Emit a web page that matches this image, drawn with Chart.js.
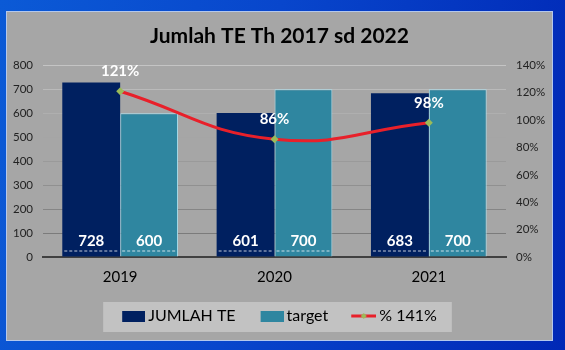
<!DOCTYPE html>
<html>
<head>
<meta charset="utf-8">
<script src="https://cdn.jsdelivr.net/npm/chart.js@4.4.0/dist/chart.umd.min.js"></script>
<style>
  body { margin: 0; width: 565px; height: 350px; overflow: hidden;
         background: linear-gradient(100deg, #0b5ad6 0%, #0846cc 45%, #0028b6 100%); }
  #panel { position: absolute; left: 6px; top: 11px; width: 545px; height: 328px;
           background: #a6a6a6; border: 1px solid #b4c8ec; }
</style>
</head>
<body>
<div id="panel"><canvas id="te" width="545" height="328"></canvas></div>
<script>
const years = ['2019', '2020', '2021'];
const jumlahTE = [728, 601, 683];
const target = [600, 700, 700];
const persen = [121, 86, 98];

const FONT = 'Lato, "Open Sans", sans-serif';

// small legend icons (content placed at right of a 28px canvas)
function icon(draw) {
  const c = document.createElement('canvas');
  c.width = 28; c.height = 12;
  draw(c.getContext('2d'));
  return c;
}
const iconTE = icon(g => { g.fillStyle = '#002060'; g.fillRect(5, 1, 23, 11); });
const iconTarget = icon(g => { g.fillStyle = '#2f86a0'; g.fillRect(5, 1, 23, 11); });
const iconPersen = icon(g => {
  g.strokeStyle = '#e8202a'; g.lineWidth = 3;
  g.beginPath(); g.moveTo(3, 6); g.lineTo(28, 6); g.stroke();
  g.fillStyle = '#9bbb59';
  g.beginPath(); g.moveTo(15.5, 3); g.lineTo(18.5, 6); g.lineTo(15.5, 9); g.lineTo(12.5, 6); g.closePath(); g.fill();
});
const icons = [iconTE, iconTarget, iconPersen];

const valueLabels = {
  id: 'valueLabels',
  beforeDraw(chart) {
    // legend background box
    const hb = chart.legend.legendHitBoxes;
    if (!hb || !hb.length) return;
    const left = Math.min(...hb.map(h => h.left)) - 19;
    const right = Math.max(...hb.map(h => h.left + h.width)) + 15;
    const ctx = chart.ctx;
    ctx.save();
    ctx.fillStyle = '#c2c2c2';
    ctx.fillRect(left, hb[0].top - 6, right - left, 30);
    ctx.restore();
  },
  afterDatasetsDraw(chart) {
    const ctx = chart.ctx;
    ctx.save();
    chart.data.datasets.forEach((ds, i) => {
      const meta = chart.getDatasetMeta(i);
      meta.data.forEach((el, j) => {
        ctx.fillStyle = '#fff';
        ctx.textAlign = 'center';
        ctx.textBaseline = 'middle';
        ctx.font = 'bold 15px ' + FONT;
        if (ds.type === 'line') {
          ctx.fillText(ds.data[j] + '%', el.x, el.y - 20);
        } else {
          ctx.fillText(ds.data[j], el.x, el.base - 15);
          ctx.strokeStyle = 'rgba(255,255,255,0.75)';
          ctx.lineWidth = 1;
          ctx.setLineDash([3, 2]);
          ctx.beginPath();
          ctx.moveTo(el.x - el.width / 2 + 2, el.base - 5.5);
          ctx.lineTo(el.x + el.width / 2 - 2, el.base - 5.5);
          ctx.stroke();
          ctx.setLineDash([]);
        }
      });
    });
    ctx.restore();
  }
};

function gridShade(v, max) {
  const t = v / max;
  const c = Math.round(112 + t * 84);
  return `rgb(${c},${c},${c})`;
}

new Chart(document.getElementById('te'), {
  type: 'bar',
  data: {
    labels: years,
    datasets: [
      {
        label: 'JUMLAH TE',
        data: jumlahTE,
        backgroundColor: '#002060',
        borderWidth: 0,
        yAxisID: 'y',
        order: 2,
        categoryPercentage: 0.75,
        barPercentage: 1
      },
      {
        label: 'target',
        data: target,
        backgroundColor: '#2f86a0',
        borderColor: '#a8dcea',
        borderWidth: { top: 1, left: 1, right: 1, bottom: 0 },
        yAxisID: 'y',
        order: 2,
        categoryPercentage: 0.75,
        barPercentage: 1
      },
      {
        type: 'line',
        label: '% 141%',
        data: persen,
        borderColor: '#e8202a',
        borderWidth: 3,
        tension: 0.45,
        pointStyle: 'rectRot',
        pointRadius: 4,
        pointBackgroundColor: '#9bbb59',
        pointBorderWidth: 0,
        yAxisID: 'y1',
        order: 0
      }
    ]
  },
  options: {
    responsive: false,
    animation: false,
    layout: { padding: { bottom: 6 } },
    plugins: {
      title: {
        display: true,
        text: 'Jumlah TE Th 2017 sd 2022',
        color: '#000',
        font: { family: FONT, size: 21, weight: 'bold' },
        padding: { top: 12, bottom: 16 }
      },
      legend: {
        position: 'bottom',
        labels: {
          usePointStyle: true,
          pointStyleWidth: 18,
          padding: 25,
          color: '#000',
          font: { family: FONT, size: 16 },
          sort: (a, b) => a.datasetIndex - b.datasetIndex,
          generateLabels(chart) {
            const items = Chart.defaults.plugins.legend.labels.generateLabels(chart);
            items.forEach(it => { it.pointStyle = icons[it.datasetIndex]; });
            return items;
          }
        }
      },
      tooltip: { enabled: false }
    },
    scales: {
      x: {
        grid: { display: false, drawTicks: false },
        border: { color: '#404040', width: 2 },
        ticks: { color: '#000', font: { family: FONT, size: 15 }, padding: 11 },
        afterFit: s => { s.height = 26; }
      },
      y: {
        min: 0, max: 800,
        ticks: { stepSize: 100, color: '#222', font: { family: FONT, size: 11.5 }, padding: 10 },
        grid: { drawTicks: false, color: c => gridShade(c.tick.value, 800) },
        border: { display: false },
        afterFit: s => { s.width = 36; }
      },
      y1: {
        position: 'right',
        min: 0, max: 140,
        ticks: { stepSize: 20, callback: v => v + '%', color: '#222', font: { family: FONT, size: 11.5 }, padding: 10 },
        grid: { display: false, drawTicks: false },
        border: { display: false },
        afterFit: s => { s.width = 46; }
      }
    }
  },
  plugins: [valueLabels]
});
</script>
</body>
</html>
